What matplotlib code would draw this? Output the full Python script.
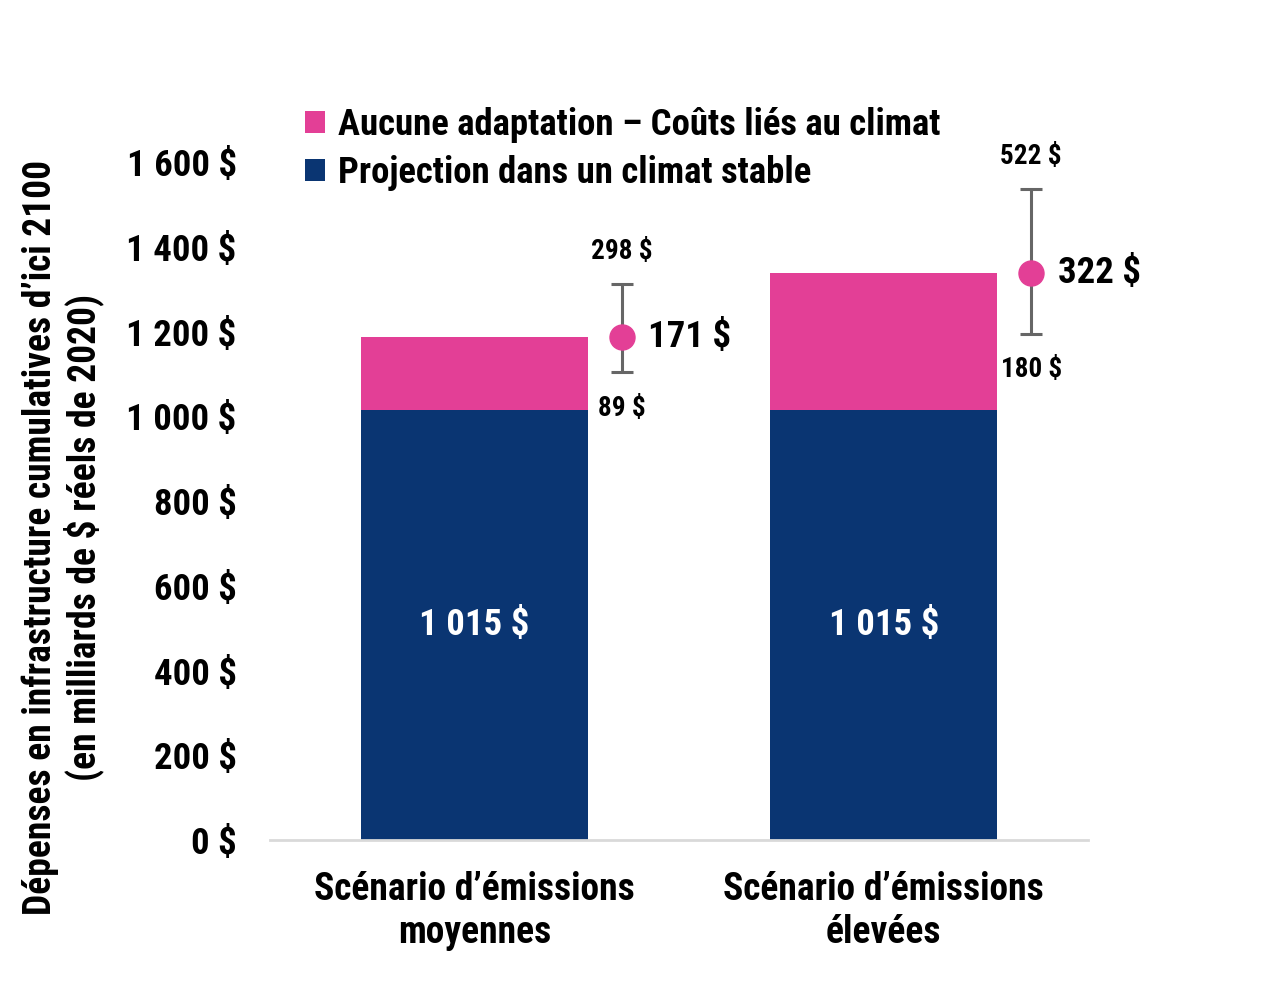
import numpy as np
import matplotlib
matplotlib.use("Agg")
import matplotlib.pyplot as plt

plt.rcParams["font.family"] = ["Roboto Condensed", "DejaVu Sans"]
plt.rcParams["font.weight"] = "bold"

scenarios = ["Scénario d\u2019émissions\nmoyennes", "Scénario d\u2019émissions\nélevées"]
stable = [1015, 1015]
climate = [171, 322]
low = [89, 180]
high = [298, 522]
yticks = [0, 200, 400, 600, 800, 1000, 1200, 1400, 1600]

blue = "#0A3572"
pink = "#E33F96"

def fmt(v):
    return f"{v:,}".replace(",", " ") + " $"

fig = plt.figure(figsize=(12.79, 9.88), dpi=100)
ax = fig.add_axes([0.211, 0.1498, 0.640, 0.772])

x = np.arange(len(scenarios))
ax.bar(x, stable, width=0.554, color=blue, label="Projection dans un climat stable", zorder=2)
ax.bar(x, climate, width=0.554, bottom=stable, color=pink,
       label="Aucune adaptation \u2013 Coûts liés au climat", zorder=2)

for i in range(len(x)):
    ax.text(x[i], stable[i] / 2, fmt(stable[i]), color="white", ha="center", va="center",
            fontsize=26.5, fontweight="bold")
    xe = x[i] + 0.36
    ytot = stable[i] + climate[i]
    ax.errorbar(xe, ytot, yerr=[[climate[i] - low[i]], [high[i] - climate[i]]],
                fmt="o", color=pink, markersize=18, ecolor="#666666", elinewidth=2.2,
                capsize=8, capthick=2.2, zorder=3)
    ax.text(xe + 0.065, ytot, fmt(climate[i]), ha="left", va="center", fontsize=26.5, fontweight="bold")
    ax.annotate(fmt(high[i]), (xe, stable[i] + high[i]), xytext=(0, 23), textcoords="offset points",
                ha="center", va="center", fontsize=19.5, fontweight="bold")
    ax.annotate(fmt(low[i]), (xe, stable[i] + low[i]), xytext=(0, -26), textcoords="offset points",
                ha="center", va="center", fontsize=19.5, fontweight="bold")

ax.set_xlim(-0.5, 1.5)
ax.set_ylim(0, 1800)
ax.set_yticks(yticks)
ax.set_yticklabels([fmt(v) for v in yticks], fontsize=26.5, fontweight="bold")
ax.set_xticks(x)
ax.set_xticklabels(scenarios, fontsize=27, fontweight="bold", linespacing=1.22)
ax.tick_params(axis="both", length=0)
ax.tick_params(axis="y", pad=24)
ax.tick_params(axis="x", pad=22)
for s in ["top", "right", "left"]:
    ax.spines[s].set_visible(False)
ax.spines["bottom"].set_color("#d9d9d9")
ax.spines["bottom"].set_linewidth(2)

fig.text(63 / 1279, 1 - 537 / 988,
         "Dépenses en infrastructure cumulatives d\u2019ici 2100\n(en milliards de $ réels de 2020)",
         rotation=90, ha="center", va="center", fontsize=27, fontweight="bold",
         linespacing=1.12, multialignment="center")

handles, labels = ax.get_legend_handles_labels()
leg = ax.legend(handles[::-1], labels[::-1], loc="upper left", bbox_to_anchor=(0.025, 0.98),
                frameon=False, fontsize=26.5, handlelength=0.55, handleheight=0.55,
                handletextpad=0.35, labelspacing=0.33, borderaxespad=0)

fig.savefig("out.png", dpi=100)
